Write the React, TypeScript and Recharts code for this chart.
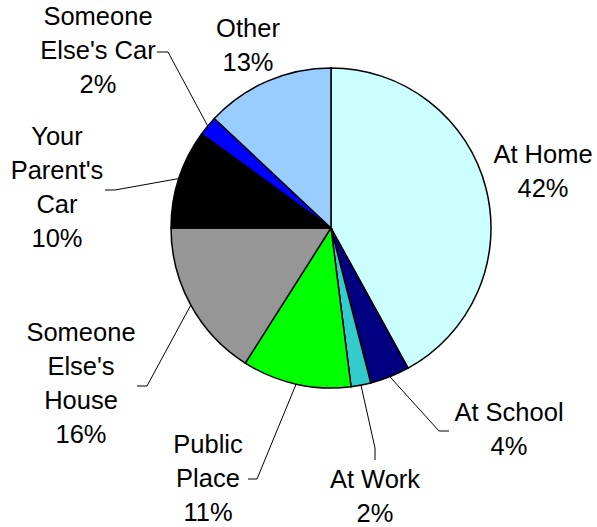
import { PieChart, Pie, Cell } from "recharts"

const categories = [
  "At Home",
  "At School",
  "At Work",
  "Public Place",
  "Someone Else's House",
  "Your Parent's Car",
  "Someone Else's Car",
  "Other",
]
const shares = [42, 4, 2, 11, 16, 10, 2, 13]
const colors = ["#CCFFFF", "#000080", "#33CCCC", "#00FF00", "#969696", "#000000", "#0000FF", "#99CCFF"]

// how each label wraps, where its text block sits and where its leader bends (relative to pie centre)
const labelLayout: Record<string, { lines: string[]; x: number; y: number; leader?: number[][] }> = {
  "At Home": { lines: ["At Home"], x: 212, y: -65 },
  "At School": { lines: ["At School"], x: 178, y: 193, leader: [[108, 203], [118, 203]] },
  "At Work": { lines: ["At Work"], x: 44, y: 260, leader: [[44, 220], [44, 232]] },
  "Public Place": { lines: ["Public", "Place"], x: -123, y: 225, leader: [[-74, 251], [-83, 251]] },
  "Someone Else's House": { lines: ["Someone", "Else's", "House"], x: -250, y: 113, leader: [[-184, 158], [-194, 158]] },
  "Your Parent's Car": { lines: ["Your", "Parent's", "Car"], x: -274, y: -83, leader: [[-216, -38], [-226, -38]] },
  "Someone Else's Car": { lines: ["Someone", "Else's Car"], x: -233, y: -203, leader: [[-163, -176], [-174, -176]] },
  Other: { lines: ["Other"], x: -83, y: -191 },
}

const data = categories.map((name, i) => ({ name, value: shares[i] }))

const RAD = Math.PI / 180

function renderLabel(props: any) {
  const { cx, cy, midAngle, outerRadius, name, percent } = props
  const layout = labelLayout[name]
  if (!layout) return null
  const lines = [...layout.lines, `${Math.round(percent * 100)}%`]
  const ex = cx + Math.cos(-midAngle * RAD) * outerRadius
  const ey = cy + Math.sin(-midAngle * RAD) * outerRadius
  let points = ""
  if (layout.leader) {
    points = [[ex, ey], ...layout.leader.map(([dx, dy]) => [cx + dx, cy + dy])].map((p) => p.join(",")).join(" ")
  }
  return (
    <g key={name}>
      {layout.leader && <polyline points={points} fill="none" stroke="#000" strokeWidth={1} />}
      <text
        x={cx + layout.x}
        y={cy + layout.y}
        textAnchor="middle"
        fontFamily="'Liberation Sans', Arial, sans-serif"
        fontSize={25.5}
        fill="#000"
      >
        {lines.map((l, i) => (
          <tspan key={i} x={cx + layout.x} dy={i === 0 ? 0 : 34}>
            {l}
          </tspan>
        ))}
      </text>
    </g>
  )
}

export default function App() {
  return (
    <div style={{ position: "absolute", left: 0, top: 0, background: "#fff" }}>
      <PieChart width={597} height={527}>
        <Pie
          data={data}
          dataKey="value"
          nameKey="name"
          cx={326}
          cy={223}
          outerRadius={160}
          startAngle={90}
          endAngle={-270}
          stroke="#000"
          strokeWidth={1.5}
          label={renderLabel}
          labelLine={false}
          isAnimationActive={false}
        >
          {data.map((d, i) => (
            <Cell key={d.name} fill={colors[i]} />
          ))}
        </Pie>
      </PieChart>
    </div>
  )
}
